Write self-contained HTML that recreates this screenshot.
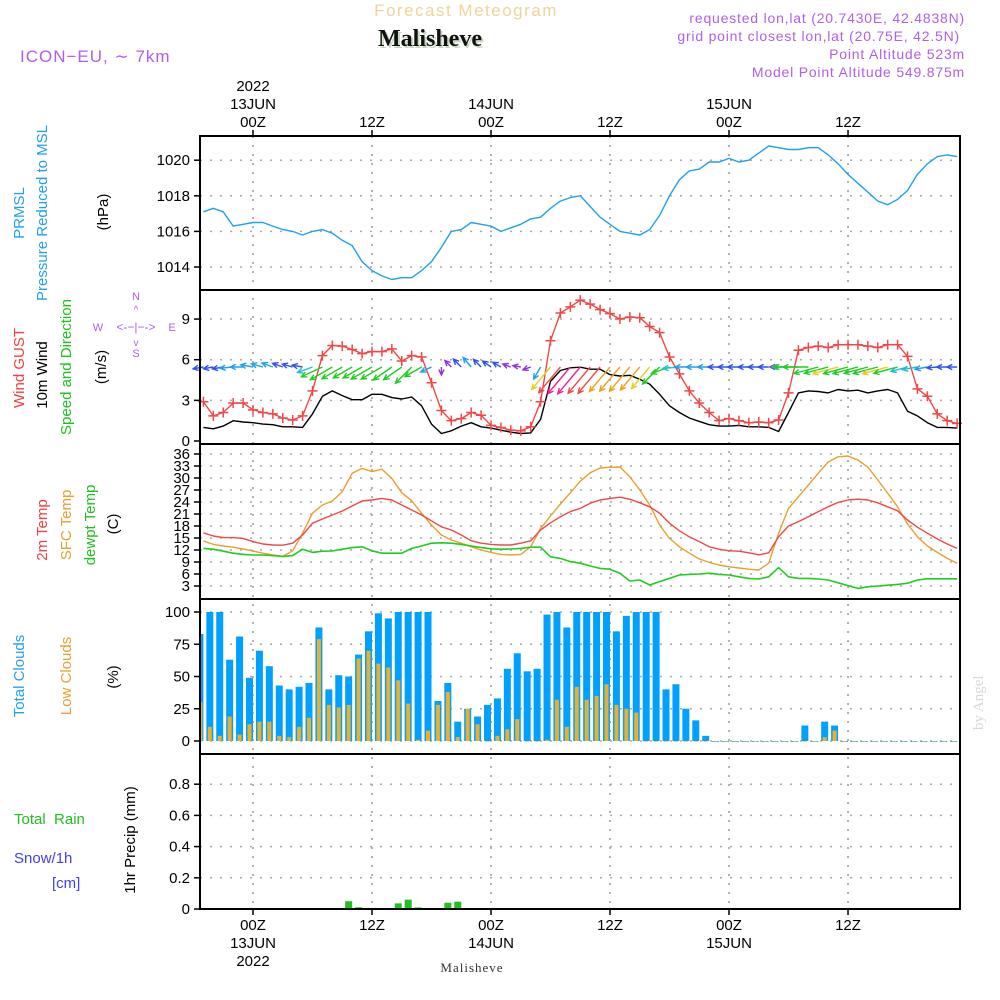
<!DOCTYPE html>
<html><head><meta charset="utf-8">
<style>
html,body{margin:0;padding:0;background:#fff;}
svg{display:block;font-family:"Liberation Sans",sans-serif;}
</style></head>
<body>
<svg id="chart" width="1000" height="1000" viewBox="0 0 1000 1000" xmlns="http://www.w3.org/2000/svg">
<rect x="0" y="0" width="1000" height="1000" fill="#fff"/>
<text x="466" y="16" font-size="17" fill="#f0d49a" text-anchor="middle" letter-spacing="1.5">Forecast Meteogram</text>
<text x="432" y="48" font-size="24" font-weight="bold" font-family="Liberation Serif,serif" fill="#c8d8c0" text-anchor="middle">Malisheve</text>
<text x="430" y="46" font-size="24" font-weight="bold" font-family="Liberation Serif,serif" fill="#111" text-anchor="middle">Malisheve</text>
<text x="20" y="62" font-size="17" fill="#b060e8" letter-spacing="1">ICON−EU, ∼ 7km</text>
<g font-size="14" fill="#b060e8" text-anchor="end" letter-spacing="0.8">
<text x="965" y="23">requested lon,lat (20.7430E, 42.4838N)</text>
<text x="960" y="41">grid point closest lon,lat (20.75E, 42.5N)</text>
<text x="965" y="59">Point Altitude 523m</text>
<text x="965" y="77">Model Point Altitude 549.875m</text>
</g>
<text transform="translate(983,730) rotate(-90)" font-size="15" font-family="Liberation Serif,serif" fill="#d8d8d8">by Angel</text>

<g font-size="15">
<text transform="translate(24,213) rotate(-90)" text-anchor="middle" fill="#20a0f0">PRMSL</text>
<text transform="translate(47,213) rotate(-90)" text-anchor="middle" fill="#20a0f0">Pressure Reduced to MSL</text>
<text transform="translate(108,212) rotate(-90)" text-anchor="middle" fill="#000">(hPa)</text>
</g>
<g font-size="15">
<text transform="translate(24,368) rotate(-90)" text-anchor="middle" fill="#f04040">Wind GUST</text>
<text transform="translate(47,375) rotate(-90)" text-anchor="middle" fill="#000">10m Wind</text>
<text transform="translate(71,367) rotate(-90)" text-anchor="middle" fill="#20c020">Speed and Direction</text>
<text transform="translate(106,367) rotate(-90)" text-anchor="middle" fill="#000">(m/s)</text>
</g>
<g font-size="11" fill="#b060e8" text-anchor="middle">
<text x="136" y="300">N</text><text x="136" y="357">S</text>
<text x="98" y="331">W</text><text x="172" y="331">E</text>
<text x="136" y="331" font-size="12">&lt;-−|−-&gt;</text>
<text x="136" y="313" font-size="10">^</text><text x="136" y="346" font-size="10">v</text>
</g>
<g font-size="15">
<text transform="translate(47,530) rotate(-90)" text-anchor="middle" fill="#f04040">2m Temp</text>
<text transform="translate(71,525) rotate(-90)" text-anchor="middle" fill="#e8a030">SFC Temp</text>
<text transform="translate(95,525) rotate(-90)" text-anchor="middle" fill="#20c020">dewpt Temp</text>
<text transform="translate(118,524) rotate(-90)" text-anchor="middle" fill="#000">(C)</text>
</g>
<g font-size="15">
<text transform="translate(24,676) rotate(-90)" text-anchor="middle" fill="#20a0f0">Total Clouds</text>
<text transform="translate(71,676) rotate(-90)" text-anchor="middle" fill="#e8a030">Low Clouds</text>
<text transform="translate(118,677) rotate(-90)" text-anchor="middle" fill="#000">(%)</text>
</g>
<g font-size="15">
<text x="14" y="824" fill="#20c020" xml:space="preserve">Total  Rain</text>
<text x="14" y="863" fill="#4040f0">Snow/1h</text>
<text x="52" y="888" fill="#4040f0">[cm]</text>
<text transform="translate(135,840) rotate(-90)" text-anchor="middle" fill="#000">1hr Precip (mm)</text>
</g>

<g id="grid"></g>
<g id="marks"></g>
<g id="frames"></g>
<g id="axes"></g>
<text x="472" y="972" font-size="13" font-family="Liberation Serif,serif" fill="#333" text-anchor="middle" letter-spacing="1">Malisheve</text>
</svg>
<script>
const pressure = [1017.1,1017.3,1017.1,1016.3,1016.4,1016.5,1016.5,1016.3,1016.1,1016.0,1015.8,1016.0,1016.1,1015.9,1015.5,1015.2,1014.3,1013.8,1013.5,1013.3,1013.4,1013.4,1013.8,1014.3,1015.1,1016.0,1016.1,1016.5,1016.4,1016.3,1016.0,1016.2,1016.4,1016.7,1016.8,1017.3,1017.7,1017.9,1018.0,1017.4,1016.8,1016.4,1016.0,1015.9,1015.8,1016.1,1016.9,1018.0,1018.9,1019.4,1019.5,1019.9,1019.9,1020.1,1019.9,1020.0,1020.4,1020.8,1020.7,1020.6,1020.6,1020.7,1020.7,1020.3,1019.8,1019.2,1018.7,1018.2,1017.7,1017.5,1017.8,1018.3,1019.2,1019.8,1020.2,1020.3,1020.2];
const gust = [2.9,1.85,2.1,2.8,2.8,2.3,2.1,2.0,1.7,1.55,1.85,3.7,6.3,7.05,7.0,6.75,6.45,6.6,6.6,6.8,5.9,6.3,6.2,4.3,2.25,1.5,1.65,2.1,1.9,1.15,1.0,0.8,0.75,1.05,2.9,7.4,9.45,9.9,10.4,10.1,9.7,9.4,9.0,9.15,9.1,8.45,8.0,6.2,4.95,3.7,2.8,2.1,1.5,1.65,1.5,1.35,1.4,1.35,1.55,3.55,6.7,6.9,7.0,6.9,7.1,7.1,7.1,7.0,6.9,7.1,7.1,6.25,3.85,3.3,2.0,1.5,1.3];
const windSpeed = [1.0,0.9,1.1,1.5,1.4,1.35,1.25,1.2,1.05,1.05,1.0,2.0,3.3,3.7,3.35,3.05,3.05,3.45,3.45,3.2,3.1,3.25,2.6,1.25,0.55,0.75,1.1,1.35,1.05,0.95,0.8,0.65,0.55,0.6,1.6,4.4,5.2,5.4,5.45,5.3,5.3,4.9,4.8,4.85,4.55,4.2,3.45,2.6,2.1,1.7,1.45,1.2,1.1,1.1,1.15,1.05,1.05,1.0,0.7,2.1,3.55,3.7,3.65,3.55,3.8,3.7,3.75,3.55,3.7,3.8,3.55,2.2,1.85,1.35,1.0,1.0,0.95];
const windDirTo = [190,190,190,185,180,170,165,160,160,165,170,200,205,210,210,210,210,210,210,215,215,225,210,205,270,135,135,130,135,145,150,160,170,200,240,230,230,230,230,230,230,230,230,230,230,230,225,200,185,180,180,180,180,180,180,180,180,180,180,180,180,180,195,195,195,195,195,195,195,195,195,195,190,190,185,180,180];
const temp2m = [16.3,15.5,15.1,15.1,14.9,14.1,13.5,13.25,13.2,13.7,15.75,18.7,19.75,20.75,21.75,23,24.25,24.5,24.9,24.5,23.25,22,20.75,19.3,17.8,17,15.75,14.3,13.7,13.4,13.25,13.25,13.7,14.3,17,18.8,20.3,21.6,22.4,23.7,24.5,24.9,25.2,24.7,23.8,22.8,21.2,18.7,16.8,15.3,14.1,12.8,12.2,11.8,11.7,11.3,10.8,11.3,15.3,18,19.1,20.3,21.6,22.8,23.9,24.5,24.7,24.5,23.8,22.8,21.8,19.5,17.7,16.2,14.75,13.5,12.4];
const tempSfc = [14.25,13.4,13,12.7,12.25,11.75,11.2,10.75,10.4,11.8,16.2,21.2,23.25,24.25,26.6,31.2,32.4,31.6,32.2,29.9,26.3,24.3,21.2,18.25,15.75,14.5,13.7,12.8,12,11.4,10.9,10.75,10.9,12.8,17.4,20.5,23.5,26.3,29.2,31.3,32.5,32.7,32.75,30.3,27,23.25,18.25,14.9,12.8,11.2,9.75,8.9,8.25,7.8,7.5,7.2,7,8.7,16.2,22.4,25.3,28.25,31.2,34,35.3,35.5,34.5,32.7,29.5,26.2,22.8,18.5,15.3,13,11.4,9.9,8.7];
const dewpoint = [12.4,12.2,11.7,11.2,10.9,10.75,10.75,10.6,10.4,10.6,12.2,11.4,11.7,11.75,12.2,12.6,12.8,11.8,11.2,11.2,11.2,12.4,13,13.7,13.8,13.7,13.4,13,12.6,12.3,12.2,12.25,12.4,12.7,12.7,10.3,9.9,9.1,8.7,8,7.4,7.2,6.2,4.25,4.5,3.25,4.1,4.9,5.75,5.9,6,6.2,5.9,5.75,5.3,4.9,4.75,5.3,7.6,5.3,4.9,4.9,4.75,4.5,3.8,3.1,2.4,2.8,3,3.2,3.4,3.7,4.5,4.8,4.8,4.8,4.8];
const totalCloud = [83,100,100,63,81,49,70,58,43,40,42,45,88,40,51,50,67,85,99,95,100,100,100,100,31,45,15,25,19,28,33,56,68,54,56,98,100,88,100,100,100,100,85,97,100,100,100,40,44,25,16,4,0,0,0,0,0,0,0,0,0,12,0,15,12,0,0,0,0,0,0,0,0,0,0,0,0];
const lowCloud = [30,11,4,19,5,13,15,15,4,3,11,18,79,28,26,28,64,70,60,57,47,29,1,8,28,38,3,25,13,0,4,9,17,0,0,1,32,11,42,32,35,44,28,25,22,0,0,0,0,0,0,0,0,0,0,0,0,0,0,0,0,0,0,3,8,0,0,0,0,0,0,0,0,0,0,0,0];
const precipHours = [10,11,15,16,17,20,21];
const precipValues = [0.05,0.011,0.036,0.06,0.01,0.04,0.047];
const pressureTicks = [1014,1016,1018,1020];
const windTicks = [0,3,6,9];
const tempTicks = [3,6,9,12,15,18,21,24,27,30,33,36];
const cloudTicks = [0,25,50,75,100];
const precipTicks = [0,0.2,0.4,0.6,0.8];
const timeTickHours = [0,12,24,36,48,60];
const timeTickLabels = ["00Z","12Z","00Z","12Z","00Z","12Z"];
const dayLabels = ["13JUN","","14JUN","","15JUN",""];
const firstHour = -5;

const NS = "http://www.w3.org/2000/svg";
const L = 200, R = 960;
const xH = h => 253 + h * 9.917;
const yP = v => 267 - (v - 1014) * 17.8;
const yW = v => 441 - v * 13.55;
const yT = v => 598 - 4 * v;
const yC = v => 741 - v * 1.29;
const yR = v => 909 - v * 156;
const panels = [[136,290],[290,444],[444,599],[599,754],[754,909]];

function mk(tag, attrs, parent) {
  const e = document.createElementNS(NS, tag);
  for (const k in attrs) e.setAttribute(k, attrs[k]);
  parent.appendChild(e);
  return e;
}
const grid = document.getElementById('grid');
const marks = document.getElementById('marks');
const frames = document.getElementById('frames');
const axes = document.getElementById('axes');
const hourOf = i => firstHour + i;

timeTickHours.forEach(h => {
  const ln = mk('line', {x1: xH(h), x2: xH(h), y1: 136, y2: 909, stroke: '#999', 'stroke-width': 1.5, 'stroke-dasharray': '2,7'}, grid);
  
  
});
function hgrid(ticks, fy, name) {
  ticks.forEach(t => {
    const ln = mk('line', {x1: L, x2: R, y1: fy(t), y2: fy(t), stroke: '#aaa', 'stroke-width': 1.5, 'stroke-dasharray': '2,8'}, grid);
    
    
  });
}
hgrid(pressureTicks, yP, 'pressure-gridline');
hgrid(windTicks.slice(1), yW, 'wind-gridline');
hgrid(tempTicks, yT, 'temp-gridline');
hgrid(cloudTicks, yC, 'cloud-gridline');
hgrid(precipTicks.slice(1), yR, 'precip-gridline');

function yticks(ticks, fy, name, fmt) {
  ticks.forEach(t => {
    const tk = mk('line', {x1: 194, x2: 200, y1: fy(t), y2: fy(t), stroke: '#000', 'stroke-width': 1.5}, axes);
    
    
    const tx = mk('text', {x: 190, y: fy(t) + 5, 'font-size': 15, 'text-anchor': 'end', fill: '#000'}, axes);
    tx.textContent = fmt ? fmt(t) : String(t);
    
    
  });
}
yticks(pressureTicks, yP, 'pressure');
yticks(windTicks, yW, 'wind');
yticks(tempTicks, yT, 'temp');
yticks(cloudTicks, yC, 'cloud');
yticks(precipTicks, yR, 'precip', t => t === 0 ? '0' : t.toFixed(1));

timeTickHours.forEach((h, i) => {
  const x = xH(h);
  [[136, 130], [909, 915]].forEach(([a, b]) => {
    const tk = mk('line', {x1: x, x2: x, y1: a, y2: b, stroke: '#000', 'stroke-width': 1.5}, axes);
    
    
  });
  const t1 = mk('text', {x: x, y: 127, 'font-size': 15, 'text-anchor': 'middle'}, axes);
  t1.textContent = timeTickLabels[i];
  
  
  const t2 = mk('text', {x: x, y: 930, 'font-size': 15, 'text-anchor': 'middle'}, axes);
  t2.textContent = timeTickLabels[i];
  
  
  if (dayLabels[i]) {
    const d1 = mk('text', {x: x, y: 109, 'font-size': 15, 'text-anchor': 'middle'}, axes);
    d1.textContent = dayLabels[i];
    
    
    const d2 = mk('text', {x: x, y: 948, 'font-size': 15, 'text-anchor': 'middle'}, axes);
    d2.textContent = dayLabels[i];
    
    
  }
});
const yr1 = mk('text', {x: xH(0), y: 91, 'font-size': 15, 'text-anchor': 'middle'}, axes);
yr1.textContent = '2022';


const yr2 = mk('text', {x: xH(0), y: 966, 'font-size': 15, 'text-anchor': 'middle'}, axes);
yr2.textContent = '2022';



panels.forEach(([t, b]) => {
  const r = mk('rect', {x: L, y: t, width: R - L, height: b - t, fill: 'none', stroke: '#000', 'stroke-width': 2}, frames);
  
  
});

function line(vals, fy, color, name, w) {
  const pts = vals.map((v, i) => xH(hourOf(i)).toFixed(1) + ',' + fy(v).toFixed(1)).join(' ');
  const pl = mk('polyline', {points: pts, fill: 'none', stroke: color, 'stroke-width': w || 1.4, 'stroke-linejoin': 'round'}, marks);
  
  
}

totalCloud.forEach((v, i) => {
  const x = xH(hourOf(i));
  if (x - 7 < L) return;
  const r = mk('rect', {x: x - 7, y: yC(v), width: 7, height: Math.max(yC(0) - yC(v), 0.8), fill: '#00a0ff'}, marks);
  
  
});
lowCloud.forEach((v, i) => {
  const x = xH(hourOf(i));
  if (x - 7 < L) return;
  const r = mk('rect', {x: x - 5.5, y: yC(v), width: 4, height: Math.max(yC(0) - yC(v), 0.6), fill: '#e8b030'}, marks);
  
  
});
(function(){
  const x = xH(hourOf(0));
  const r = mk('rect', {x: L, y: yC(totalCloud[0]), width: x - L, height: yC(0) - yC(totalCloud[0]), fill: '#00a0ff'}, marks);
  
  
  const r2 = mk('rect', {x: L, y: yC(lowCloud[0]), width: x - L - 1, height: yC(0) - yC(lowCloud[0]), fill: '#e8b030'}, marks);
  
  
})();

precipValues.forEach((v, i) => {
  const x = xH(precipHours[i]);
  const r = mk('rect', {x: x - 7, y: yR(v), width: 7, height: yR(0) - yR(v), fill: '#20c020'}, marks);
  
  
});

line(pressure, yP, '#20a0f0', 'pressure-line');
line(tempSfc, yT, '#e8a030', 'sfc-temp-line');
line(temp2m, yT, '#f04848', '2m-temp-line');
line(dewpoint, yT, '#20cc20', 'dewpoint-line', 1.6);
line(windSpeed, yW, '#000', 'wind-speed-line');
line(gust, yW, '#f04848', 'gust-line');
gust.forEach((v, i) => {
  const x = xH(hourOf(i)), y = yW(v);
  const p = mk('path', {d: `M${x-5},${y}H${x+5}M${x},${y-5}V${y+5}`, stroke: '#f04848', 'stroke-width': 1.5, fill: 'none'}, marks);
  
  
});
function windColor(s) {
  if (s < 0.8) return '#9030e0';
  if (s < 1.2) return '#3050f0';
  if (s < 1.8) return '#20a0f0';
  if (s < 2.5) return '#20c0d0';
  if (s < 3.8) return '#20cc20';
  if (s < 4.5) return '#e0d020';
  if (s < 5.0) return '#f0a020';
  if (s < 5.35) return '#f04848';
  return '#f02090';
}
windDirTo.forEach((d, i) => {
  const s = windSpeed[i];
  const len = 5 + 5.5 * s;
  const a = d * Math.PI / 180;
  const dx = Math.cos(a), dy = -Math.sin(a);
  const tx = xH(hourOf(i)), ty = 367;
  const hx = tx + dx * len, hy = ty + dy * len;
  const hl = 6, sp = 0.45;
  const b1x = hx - hl * (dx * Math.cos(sp) - dy * Math.sin(sp));
  const b1y = hy - hl * (dy * Math.cos(sp) + dx * Math.sin(sp));
  const b2x = hx - hl * (dx * Math.cos(-sp) - dy * Math.sin(-sp));
  const b2y = hy - hl * (dy * Math.cos(-sp) + dx * Math.sin(-sp));
  const p = mk('path', {d: `M${tx.toFixed(1)},${ty.toFixed(1)}L${hx.toFixed(1)},${hy.toFixed(1)}M${b1x.toFixed(1)},${b1y.toFixed(1)}L${hx.toFixed(1)},${hy.toFixed(1)}L${b2x.toFixed(1)},${b2y.toFixed(1)}`, stroke: windColor(s), 'stroke-width': 1.4, fill: 'none'}, marks);
  
  
});
</script>
</body></html>
